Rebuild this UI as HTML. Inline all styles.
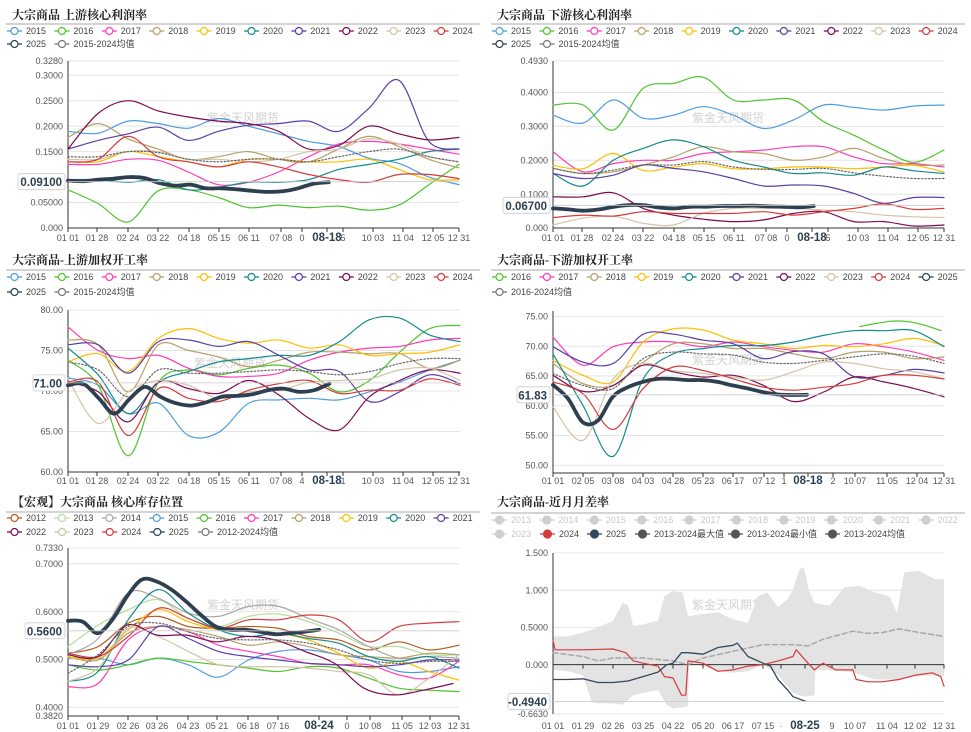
<!DOCTYPE html>
<html><head><meta charset="utf-8">
<style>
html,body{margin:0;padding:0;background:#fff;}
svg{display:block;font-family:"Liberation Sans","Noto Sans CJK SC",sans-serif;}
</style></head>
<body>
<svg id="root" width="971" height="732" viewBox="0 0 971 732"></svg>
<script>
// ---------- Panel 1: upstream core profit margin ----------
const p1_2015=[0.19,0.186,0.21,0.205,0.196,0.215,0.20,0.185,0.17,0.16,0.137,0.127,0.10,0.085];
const p1_2016=[0.075,0.048,0.012,0.073,0.075,0.06,0.04,0.045,0.04,0.043,0.035,0.045,0.085,0.125];
const p1_2017=[0.125,0.125,0.135,0.133,0.11,0.085,0.09,0.11,0.14,0.165,0.17,0.165,0.155,0.145];
const p1_2018=[0.178,0.205,0.175,0.155,0.135,0.14,0.15,0.135,0.13,0.155,0.18,0.16,0.135,0.118];
const p1_2019=[0.13,0.13,0.15,0.14,0.13,0.12,0.135,0.135,0.13,0.13,0.135,0.115,0.095,0.095];
const p1_2020=[0.095,0.095,0.09,0.095,0.075,0.08,0.09,0.09,0.095,0.115,0.125,0.135,0.15,0.155];
const p1_2021=[0.155,0.172,0.185,0.198,0.172,0.19,0.202,0.205,0.21,0.19,0.235,0.29,0.17,0.155];
const p1_2022=[0.155,0.225,0.25,0.23,0.218,0.21,0.205,0.19,0.155,0.162,0.2,0.185,0.173,0.178];
const p1_2023=[0.135,0.135,0.15,0.15,0.135,0.135,0.13,0.135,0.15,0.155,0.175,0.165,0.14,0.13];
const p1_2024=[0.13,0.135,0.18,0.14,0.13,0.12,0.13,0.12,0.105,0.095,0.09,0.105,0.105,0.097];
const p1_avg=[0.14,0.14,0.15,0.148,0.135,0.13,0.135,0.135,0.13,0.14,0.15,0.155,0.14,0.13];
const p1_2025=[0.093,0.092,0.095,0.097,0.1,0.098,0.088,0.083,0.085,0.078,0.078,0.076,0.073,0.071,0.072,0.078,0.087,0.09];
const p1_yticks=[0,0.05,0.15,0.2,0.25,0.3,0.328];
const p1_ylabels=["0.000","0.05000","0.1500","0.2000","0.2500","0.3000","0.3280"];
// ---------- Panel 2: downstream core profit margin ----------
const p2_2015=[0.333,0.31,0.378,0.324,0.333,0.358,0.333,0.294,0.319,0.363,0.356,0.348,0.36,0.363];
const p2_2016=[0.363,0.363,0.289,0.412,0.427,0.445,0.378,0.378,0.378,0.314,0.274,0.23,0.194,0.23];
const p2_2017=[0.225,0.166,0.19,0.2,0.2,0.22,0.225,0.23,0.24,0.24,0.21,0.19,0.19,0.18];
const p2_2018=[0.176,0.161,0.166,0.186,0.21,0.24,0.225,0.22,0.2,0.21,0.235,0.205,0.186,0.186];
const p2_2019=[0.185,0.175,0.22,0.17,0.18,0.19,0.175,0.175,0.18,0.18,0.175,0.18,0.185,0.165];
const p2_2020=[0.161,0.124,0.2,0.235,0.26,0.24,0.2,0.18,0.161,0.163,0.156,0.18,0.169,0.161];
const p2_2021=[0.161,0.146,0.156,0.186,0.176,0.166,0.146,0.124,0.127,0.124,0.102,0.073,0.09,0.09];
const p2_2022=[0.092,0.092,0.104,0.058,0.038,0.026,0.019,0.024,0.043,0.048,0.019,0.019,0.006,0.009];
const p2_2023=[0.009,0.029,0.035,0.014,0.009,0.043,0.058,0.058,0.058,0.053,0.048,0.038,0.033,0.031];
const p2_2024=[0.031,0.038,0.035,0.048,0.043,0.043,0.043,0.048,0.038,0.048,0.058,0.071,0.055,0.058];
const p2_avg=[0.176,0.161,0.171,0.186,0.186,0.196,0.18,0.173,0.173,0.176,0.163,0.153,0.146,0.146];
const p2_2025=[0.058,0.055,0.051,0.055,0.063,0.068,0.067,0.06,0.058,0.063,0.063,0.065,0.065,0.066,0.064,0.063,0.061,0.065];
const p2_yticks=[0,0.1,0.2,0.3,0.4,0.493];
const p2_ylabels=["0.000","0.1000","0.2000","0.3000","0.4000","0.4930"];
// ---------- Panel 3: upstream weighted operating rate ----------
const p3_2015=[71.6,70.7,67.2,68.5,64.5,64.9,68.5,68.9,69.1,68.9,69.9,71.1,72.6,73.8];
const p3_2016=[73.8,70.7,62,71.1,72.6,72,72.8,73.2,72.2,69.9,71.3,74.8,77.7,78.1];
const p3_2017=[77.9,75,74,74.4,72.8,71.8,71.8,72.2,73.8,74.8,75.3,75.5,76.3,76.5];
const p3_2018=[76.3,75.7,69.9,75.7,75,74.2,73,73.8,74.8,74.8,74.6,74.6,72.8,73.8];
const p3_2019=[73.6,74.6,72.4,76.5,77.7,76.5,75.9,76.3,75.3,75.7,74.4,74.6,74.8,75.7];
const p3_2020=[75.3,72,67.2,71.1,72.4,73.6,74,74.4,74.4,76.1,78.8,79,76.9,76.1];
const p3_2021=[75.7,75.7,72.2,76.1,76.3,75.5,76.1,74.4,72.6,72.4,68.7,69.9,72,70.9];
const p3_2022=[71.1,69.9,66.2,71.1,70.3,69.7,71.3,69.5,66.6,65.2,69.3,71.3,72.6,72.2];
const p3_2023=[71.5,66,69.9,71.3,70.7,69.1,69.9,70.1,71.1,71.3,71.5,72.6,72.8,71.3];
const p3_2024=[71.1,71.1,64.5,70.3,69.1,68.7,70.1,70.9,71.3,69.7,70.1,70.1,71.5,70.7];
const p3_avg=[73.6,72.6,69.3,72.6,72.2,72.2,72.4,72.6,72.4,72,72.4,73.4,74,74];
const p3_2025=[70.7,70.9,69.1,67.2,69.0,70.5,69.3,68.5,68.2,68.6,69.3,69.4,69.6,70.1,70.3,69.9,70.1,70.9];
const p3_yticks=[60,65,70,75,80];
const p3_ylabels=["60.00","65.00","70.00","75.00","80.00"];
// ---------- Panel 4: downstream weighted operating rate ----------
const p4_2016=[73.3,73.8,74.2,74.1,73.5,72.6];
const p4_2017=[71.5,66.8,69.9,70.7,70.7,69.9,70.7,69.9,69.3,69,70.4,69.9,69,67.6];
const p4_2018=[67.1,63.7,63.4,67.3,70.4,70.4,69.6,69.6,68.7,67.9,69,69,67.9,68.2];
const p4_2019=[67.6,65.1,64,70.7,72.9,72.7,71,70.4,69.6,70.1,69.9,70.4,71.3,70.1];
const p4_2020=[68.7,60,51.5,64.5,68.7,69.6,70.1,70.1,70.7,71.8,72.6,72.6,72.6,69.9];
const p4_2021=[69.9,67.3,67.1,72,72,71,70.4,67.9,69.1,68.7,64.9,65.1,66.1,65.5];
const p4_2022=[65.1,62.4,63.4,66.8,65.7,64.8,65.1,63.4,60.7,62.3,64.8,64,62.9,61.5];
const p4_2023=[59.8,54.2,64.5,67.1,65.9,65.4,64.8,64.3,65.7,67.3,67.1,66.2,65.7,64.5];
const p4_2024=[64,62,56,62.9,66.5,65.9,64.5,63.1,62.6,63.1,63.7,65.1,65.1,64.5];
const p4_avg=[65.4,63.4,62.9,67.9,69,68.7,68.5,67.3,67.1,67.6,68.2,68.7,68.3,67.1];
const p4_2025=[63.5,61.2,57.2,57.5,61.5,63.1,64,64.5,64.5,64.3,64.3,64,63.4,62.9,62.3,61.9,61.8,61.83];
const p4_yticks=[50,55,60,65,70,75];
const p4_ylabels=["50.00","55.00","60.00","65.00","70.00","75.00"];
// ---------- Panel 5: core inventory position ----------
const p5_2012=[.513,.527,.576,.59,.569,.565,.569,.565,.548,.541,.52,.537,.52,.53];
const p5_2013=[.527,.572,.604,.625,.586,.569,.59,.595,.579,.555,.527,.527,.51,.51];
const p5_2014=[.51,.544,.639,.628,.597,.59,.611,.611,.586,.562,.527,.503,.506,.503];
const p5_2015=[.503,.503,.489,.503,.489,.463,.499,.517,.52,.51,.499,.475,.475,.485];
const p5_2016=[.489,.478,.489,.503,.496,.489,.482,.475,.485,.482,.461,.44,.436,.433];
const p5_2017=[.443,.45,.541,.569,.558,.53,.517,.506,.492,.489,.489,.468,.461,.496];
const p5_2018=[.506,.499,.555,.569,.562,.548,.53,.537,.527,.51,.506,.503,.513,.51];
const p5_2019=[.506,.503,.562,.604,.579,.562,.562,.555,.541,.513,.482,.496,.475,.457];
const p5_2020=[.454,.475,.583,.646,.597,.562,.548,.555,.544,.534,.506,.496,.506,.482];
const p5_2021=[.489,.485,.499,.569,.544,.517,.506,.499,.492,.489,.485,.489,.499,.499];
const p5_2022=[.51,.506,.572,.551,.551,.537,.548,.541,.517,.492,.44,.426,.436,.45];
const p5_2023=[.454,.482,.565,.548,.517,.489,.485,.485,.482,.475,.468,.426,.461,.51];
const p5_2024=[.513,.506,.548,.607,.586,.565,.583,.583,.593,.583,.537,.569,.576,.579];
const p5_avg=[.471,.51,.569,.576,.558,.544,.541,.541,.534,.52,.499,.492,.496,.496];
const p5_2025=[.581,.579,.555,.583,.632,.667,.663,.646,.621,.593,.569,.562,.562,.558,.553,.555,.558,.562];
const p5_yticks=[0.382,0.4,0.5,0.6,0.7,0.733];
const p5_ylabels=["0.3820","0.4000","0.5000","0.6000","0.7000","0.7330"];
// ---------- Panel 6: near-month spread rate ----------
const p6_maxDays=[0,14,28,42,56,65,70,75,84,98,104,112,121,126,140,154,168,182,191,200,210,219,224,230,234,239,244,258,272,286,300,314,321,328,342,356,365];
const p6_maxVals=[.38,.38,.43,.5,.59,.83,.8,.52,.54,.59,.92,.99,.97,.65,.68,.7,.61,.56,.92,.97,.77,.88,1.01,1.28,1.31,1.0,.83,.79,1.04,1.06,.97,.92,.7,1.24,1.26,1.15,1.15];
const p6_minDays=[0,14,28,36,42,56,65,75,84,98,106,112,126,127,140,154,168,182,196,210,224,234,244,245,261,280,300,320,340,365];
const p6_minVals=[-.07,-.09,-.14,-.5,-.52,-.52,-.54,-.41,-.38,-.34,-.54,-.59,-.56,.02,-.02,-.09,-.11,-.09,0,-.14,-.38,-.43,-.41,-.07,-.08,-.1,-.2,-.2,-.15,-.15];
const p6_avgDays=[0,28,42,56,84,112,126,140,168,196,224,238,252,280,294,307,323,342,365];
const p6_avgVals=[.16,.11,.05,.09,.09,.05,0,.09,.18,.27,.27,.25,.34,.45,.42,.43,.48,.43,.38];
const p6_2024Days=[0,2,28,56,68,75,84,98,104,112,120,124,126,140,154,168,182,196,210,224,227,238,244,252,264,280,283,294,307,323,339,354,362,365];
const p6_2024Vals=[.32,.2,.2,.21,.16,.05,.02,-.02,-.16,-.18,-.41,-.41,.05,.02,-.09,-.07,-.02,0,.05,.11,.2,.02,-.07,.02,-.07,-.07,-.2,-.23,-.23,-.2,-.14,-.11,-.16,-.29];
const p6_2025Days=[0,14,28,42,56,70,84,98,106,112,120,126,140,154,168,172,182,196,203,210,219,224,236];
const p6_2025Vals=[-.2,-.2,-.19,-.24,-.24,-.22,-.16,-.1,0,.02,.16,.16,.14,.23,.26,.29,.11,.02,-.02,-.2,-.34,-.43,-.494];
const p6_yticks=[-0.663,0,0.5,1.0,1.5];
const p6_ylabels=["-0.6630","0.000","0.5000","1.000","1.500"];

const C={'2012':'#b35a1f','2013':'#b5dc9a','2014':'#a8a8a8','2015':'#4f9de0','2016':'#4ec42e','2017':'#ff3cb4','2018':'#b5a06a','2019':'#ffbf00','2020':'#138a8c','2021':'#5a3fa6','2022':'#7d0c50','2023':'#d4c3a8','2024':'#d43c3c','2025':'#2e4050','avg':'#777'};

const NS='http://www.w3.org/2000/svg';
const root=document.getElementById('root');
function mk(tag,attrs,parent){const e=document.createElementNS(NS,tag);for(const k in attrs)e.setAttribute(k,attrs[k]);(parent||root).appendChild(e);return e;}
function txt(s,attrs,parent){const e=mk('text',attrs,parent);e.textContent=s;return e;}
function smooth(pts){
  let d='M'+pts[0][0].toFixed(1)+','+pts[0][1].toFixed(1);
  for(let i=0;i<pts.length-1;i++){
    const p0=pts[i-1]||pts[i],p1=pts[i],p2=pts[i+1],p3=pts[i+2]||p2;
    const c1x=p1[0]+(p2[0]-p0[0])/6,c1y=p1[1]+(p2[1]-p0[1])/6;
    const c2x=p2[0]-(p3[0]-p1[0])/6,c2y=p2[1]-(p3[1]-p1[1])/6;
    d+=' C'+c1x.toFixed(1)+','+c1y.toFixed(1)+' '+c2x.toFixed(1)+','+c2y.toFixed(1)+' '+p2[0].toFixed(1)+','+p2[1].toFixed(1);
  }
  return d;
}

function legendItem(g,x,y,label,color,opts){
  opts=opts||{};
  const it=mk('g',{},g);
  
  
  mk('line',{x1:x,y1:y,x2:x+15,y2:y,stroke:color,'stroke-width':1.3},it);
  mk('circle',{cx:x+7.5,cy:y,r:opts.filled?4:3.5,fill:opts.filled?color:'#fff',stroke:color,'stroke-width':1.2},it);
  txt(label,{x:x+19,y:y+3.2,'font-size':9,fill:opts.textColor||'#444'},it);
}

function panel(cfg){
  const g=mk('g',{});
  
  
  const ox=cfg.ox,oy=cfg.oy;
  const t=txt(cfg.title,{x:ox+12,y:oy+cfg.titleY,'font-size':12,'font-weight':'bold',fill:'#222','font-family':'"Liberation Serif","Noto Serif CJK SC",serif'},g);
  
  
  const sep=mk('line',{x1:ox+6,y1:oy+cfg.sepY,x2:ox+480,y2:oy+cfg.sepY,stroke:'#aaa','stroke-width':1},g);
  
  
  const lg=mk('g',{},g);
  
  
  cfg.legend.forEach(l=>legendItem(lg,ox+l[0],oy+l[1],l[2],l[3],l[4]));
  const x0=cfg.x0,x1=cfg.x1;
  const Y=v=>cfg.yBot-(v-cfg.min)/(cfg.max-cfg.min)*(cfg.yBot-cfg.yTop);
  const X=idx=>x0+idx/13*(x1-x0);
  const grid=mk('g',{},g);
  
  
  cfg.yticks.forEach((v,i)=>{
    const y=Y(v);
    mk('line',{x1:x0,y1:y,x2:x1,y2:y,stroke:'#e4e4e4','stroke-width':1},grid);
    const lab=txt(cfg.ylabels[i],{x:x0-5,y:y+3.2,'font-size':9,fill:'#555','text-anchor':'end'},grid);
    
    
  });
  const wm=txt('紫金天风期货',{x:cfg.wmX,y:cfg.wmY,'font-size':12,fill:'#d2d2d2','text-anchor':'middle'},g);
  
  
  if(cfg.band){
    const XD=d=>x0+d/365*(x1-x0);
    let d='M';
    cfg.band.maxD.forEach((dd,i)=>{d+=XD(dd).toFixed(1)+','+Y(cfg.band.maxV[i]).toFixed(1)+' L';});
    for(let i=cfg.band.minD.length-1;i>=0;i--){d+=XD(cfg.band.minD[i]).toFixed(1)+','+Y(cfg.band.minV[i]).toFixed(1)+(i?' L':' Z');}
    const b=mk('path',{d:d,fill:'#e3e3e3',stroke:'none'},g);
    
    
  }
  const ya=mk('line',{x1:x0,y1:cfg.yTopAxis,x2:x0,y2:cfg.yBot,stroke:'#333','stroke-width':1},g);
  
  
  const axY=cfg.xAxisAtZero?Y(0):cfg.yBot;
  const xa=mk('line',{x1:x0,y1:axY,x2:x1,y2:axY,stroke:'#333','stroke-width':1},g);
  
  
  cfg.xlabels.forEach((lb,i)=>{
    const px=cfg.xpos[i];
    mk('line',{x1:px,y1:axY,x2:px,y2:axY+4,stroke:'#333','stroke-width':1},g);
    const bold=lb===cfg.xHighlight;
    const e=txt(lb,{x:px,y:cfg.xLabY,'font-size':bold?11.5:9,'font-weight':bold?'bold':'normal',fill:bold?'#2e4050':'#555','text-anchor':'middle'},g);
    
    
  });
  const sg=mk('g',{},g);
  
  
  cfg.series.forEach(s=>{
    let pts;
    if(s.days){
      pts=s.days.map((d,i)=>[x0+d/365*(x1-x0),Y(s.vals[i])]);
    } else {
      const st=s.start||0,en=(s.end===undefined?13:s.end);
      pts=s.vals.map((v,i)=>[X(st+i*(en-st)/(s.vals.length-1)),Y(v)]);
    }
    const d=s.days?'M'+pts.map(p=>p[0].toFixed(1)+','+p[1].toFixed(1)).join(' L'):smooth(pts);
    const p=mk('path',{d:d,fill:'none',stroke:s.color,'stroke-width':s.w||1.2,'stroke-linejoin':'round','stroke-linecap':'round'},sg);
    if(s.dash)p.setAttribute('stroke-dasharray',s.dash);
    
    
  });
  const hv=cfg.hl;
  const hy=Y(hv.v);
  mk('line',{x1:x0,y1:hy,x2:x1,y2:hy,stroke:'#ccc','stroke-width':0.8},g);
  const hb=mk('g',{},g);
  
  
  mk('rect',{x:hv.x,y:hy-8,width:x0-hv.x-3,height:16,rx:2,fill:'#fff',stroke:'#ccc','stroke-width':0.8},hb);
  txt(hv.t,{x:x0-6,y:hy+4.5,'font-size':11.5,'font-weight':'bold',fill:'#2e4050','text-anchor':'end'},hb);
}

function stdLegend(years,avgLabel,row1y,row2y,row2first){
  const L=[];
  years.forEach((yr,i)=>L.push([7+47.4*i,row1y,yr,C[yr]]));
  let x=7;
  row2first.forEach(yr=>{L.push([x,row2y,yr,C[yr]]);x+=47.5;});
  L.push([x,row2y,avgLabel,C.avg]);
  return L;
}
function yearSeries(prefixObj,years){
  return years.map(yr=>({label:yr,vals:prefixObj[yr],color:C[yr]}));
}
const xposA=[68,97,128,158,189,219,249,281,302,327,343,373,403,433,459];

panel({name:'upstream-profit-chart',ox:0,oy:0,title:'大宗商品 上游核心利润率',titleY:19,sepY:24,
  legend:stdLegend(['2015','2016','2017','2018','2019','2020','2021','2022','2023','2024'],'2015-2024均值',31,44,['2025']),
  x0:68,x1:459,yTop:61,yTopAxis:61,yBot:228,min:0,max:0.328,yticks:p1_yticks,ylabels:p1_ylabels,
  wmX:243,wmY:122,
  xlabels:['01 01','01 28','02 24','03 22','04 18','05 15','06 11','07 08','0','08-18','5','10 03','11 04','12 05','12 31'],
  xpos:xposA,xHighlight:'08-18',xLabY:241,
  series:yearSeries({'2015':p1_2015,'2016':p1_2016,'2017':p1_2017,'2018':p1_2018,'2019':p1_2019,'2020':p1_2020,'2021':p1_2021,'2022':p1_2022,'2023':p1_2023,'2024':p1_2024},['2015','2016','2017','2018','2019','2020','2021','2022','2023','2024'])
   .concat([{label:'avg',vals:p1_avg,color:'#666',dash:'1.5,2'},{label:'2025',vals:p1_2025,color:C['2025'],w:3.8,end:8.67}]),
  hl:{v:0.091,t:'0.09100',x:18}});

panel({name:'downstream-profit-chart',ox:485,oy:0,title:'大宗商品 下游核心利润率',titleY:19,sepY:24,
  legend:stdLegend(['2015','2016','2017','2018','2019','2020','2021','2022','2023','2024'],'2015-2024均值',31,44,['2025']),
  x0:553,x1:944,yTop:61,yTopAxis:61,yBot:228,min:0,max:0.493,yticks:p2_yticks,ylabels:p2_ylabels,
  wmX:728,wmY:122,
  xlabels:['01 01','01 28','02 24','03 22','04 18','05 15','06 11','07 08','0','08-18','5','10 03','11 04','12 05','12 31'],
  xpos:xposA.map(v=>v+485),xHighlight:'08-18',xLabY:241,
  series:yearSeries({'2015':p2_2015,'2016':p2_2016,'2017':p2_2017,'2018':p2_2018,'2019':p2_2019,'2020':p2_2020,'2021':p2_2021,'2022':p2_2022,'2023':p2_2023,'2024':p2_2024},['2015','2016','2017','2018','2019','2020','2021','2022','2023','2024'])
   .concat([{label:'avg',vals:p2_avg,color:'#666',dash:'1.5,2'},{label:'2025',vals:p2_2025,color:C['2025'],w:3.8,end:8.67}]),
  hl:{v:0.067,t:'0.06700',x:503}});

panel({name:'upstream-operating-rate-chart',ox:0,oy:245,title:'大宗商品-上游加权开工率',titleY:19,sepY:25,
  legend:stdLegend(['2015','2016','2017','2018','2019','2020','2021','2022','2023','2024'],'2015-2024均值',32,47,['2025']),
  x0:68,x1:460,yTop:310,yTopAxis:310,yBot:472,min:60,max:80,yticks:p3_yticks,ylabels:p3_ylabels,
  wmX:230,wmY:367,
  xlabels:['01 01','01 28','02 24','03 22','04 18','05 15','06 11','07 08','4','08-18','1','10 03','11 04','12 05','12 31'],
  xpos:xposA,xHighlight:'08-18',xLabY:484,
  series:yearSeries({'2015':p3_2015,'2016':p3_2016,'2017':p3_2017,'2018':p3_2018,'2019':p3_2019,'2020':p3_2020,'2021':p3_2021,'2022':p3_2022,'2023':p3_2023,'2024':p3_2024},['2015','2016','2017','2018','2019','2020','2021','2022','2023','2024'])
   .concat([{label:'avg',vals:p3_avg,color:'#666',dash:'1.5,2'},{label:'2025',vals:p3_2025,color:C['2025'],w:3.8,end:8.67}]),
  hl:{v:71,t:'71.00',x:33}});

{
 const L=[];
 ['2016','2017','2018','2019','2020','2021','2022','2023','2024','2025'].forEach((yr,i)=>L.push([7+47.4*i,32,yr,C[yr]]));
 L.push([7,47,'2016-2024均值',C.avg]);
 panel({name:'downstream-operating-rate-chart',ox:485,oy:245,title:'大宗商品-下游加权开工率',titleY:19,sepY:25,legend:L,
  x0:553,x1:944,yTop:311,yTopAxis:311,yBot:473,min:48.7,max:75.9,yticks:p4_yticks,ylabels:p4_ylabels,
  wmX:728,wmY:364,
  xlabels:['01 01','02 05','03 08','04 03','04 28','05 23','06 17','07 12','1','08-18','2','10 07','11 05','12 04','12 31'],
  xpos:[68,98,128,158,188,218,248,279,299,323,348,370,402,432,459].map(v=>v+485),xHighlight:'08-18',xLabY:484,
  series:yearSeries({'2017':p4_2017,'2018':p4_2018,'2019':p4_2019,'2020':p4_2020,'2021':p4_2021,'2022':p4_2022,'2023':p4_2023,'2024':p4_2024},['2017','2018','2019','2020','2021','2022','2023','2024'])
   .concat([{label:'2016',vals:p4_2016,color:C['2016'],start:10.2,end:12.9},{label:'avg',vals:p4_avg,color:'#666',dash:'1.5,2'},{label:'2025',vals:p4_2025,color:C['2025'],w:3.8,end:8.45}]),
  hl:{v:61.83,t:'61.83',x:517}});
}

{
 const yrs=['2012','2013','2014','2015','2016','2017','2018','2019','2020','2021'];
 const L=[];
 yrs.forEach((yr,i)=>L.push([7+47.4*i,28,yr,C[yr]]));
 ['2022','2023','2024','2025'].forEach((yr,i)=>L.push([7+47.6*i,42,yr,C[yr]]));
 L.push([198,42,'2012-2024均值',C.avg]);
 panel({name:'core-inventory-position-chart',ox:0,oy:490,title:'【宏观】大宗商品 核心库存位置',titleY:16,sepY:22,legend:L,
  x0:68,x1:459,yTop:548,yTopAxis:548,yBot:716,min:0.382,max:0.733,yticks:p5_yticks,ylabels:p5_ylabels,
  wmX:243,wmY:609,
  xlabels:['01 01','01 29','02 26','03 26','04 23','05 21','06 18','07 16','08-24','0','10 08','11 05','12 03','12 31'],
  xpos:[68,98,128,157,188,217,248,278,319,347,370,402,430,459],xHighlight:'08-24',xLabY:729,
  series:yearSeries({'2012':p5_2012,'2013':p5_2013,'2014':p5_2014,'2015':p5_2015,'2016':p5_2016,'2017':p5_2017,'2018':p5_2018,'2019':p5_2019,'2020':p5_2020,'2021':p5_2021,'2023':p5_2023,'2024':p5_2024},['2012','2013','2014','2015','2016','2017','2018','2019','2020','2021','2023','2024'])
   .concat([{label:'2022',vals:p5_2022,color:C['2022'],end:12.8},{label:'avg',vals:p5_avg,color:'#666',dash:'1.5,2'},{label:'2025',vals:p5_2025,color:C['2025'],w:3.8,end:8.35}]),
  hl:{v:0.56,t:'0.5600',x:25}});
}

{
 const L=[];
 ['2013','2014','2015','2016','2017','2018','2019','2020','2021','2022'].forEach((yr,i)=>L.push([7+47.4*i,30,yr,'#cfcfcf',{filled:true,textColor:'#c8c8c8'}]));
 L.push([7,44,'2023','#cfcfcf',{filled:true,textColor:'#c8c8c8'}]);
 L.push([55,44,'2024','#d43c3c',{filled:true}]);
 L.push([102,44,'2025','#34495e',{filled:true}]);
 L.push([150,44,'2013-2024最大值','#555',{filled:true}]);
 L.push([243,44,'2013-2024最小值','#555',{filled:true}]);
 L.push([340,44,'2013-2024均值','#555',{filled:true}]);
 panel({name:'near-month-spread-chart',ox:485,oy:490,title:'大宗商品-近月月差率',titleY:16,sepY:23,legend:L,
  x0:553,x1:944,yTop:553,yTopAxis:553,yBot:714,min:-0.663,max:1.5,yticks:p6_yticks,ylabels:p6_ylabels,
  wmX:728,wmY:609,xAxisAtZero:true,
  band:{maxD:p6_maxDays,maxV:p6_maxVals,minD:p6_minDays,minV:p6_minVals},
  xlabels:['01 01','01 29','02 26','03 25','04 22','05 20','06 17','07 15','·','08-25','9','10 07','11 04','12 02','12 31'],
  xpos:[68,98,128,158,188,218,248,278,296,320,347,370,402,430,459].map(v=>v+485),xHighlight:'08-25',xLabY:729,
  series:[{label:'avg',days:p6_avgDays,vals:p6_avgVals,color:'#a8a8a8',dash:'5,3',w:1.5},
          {label:'2024',days:p6_2024Days,vals:p6_2024Vals,color:'#d43c3c',w:1.2},
          {label:'2025',days:p6_2025Days,vals:p6_2025Vals,color:'#34495e',w:1.3}],
  hl:{v:-0.494,t:'-0.4940',x:508}});
}
</script>
</body></html>
